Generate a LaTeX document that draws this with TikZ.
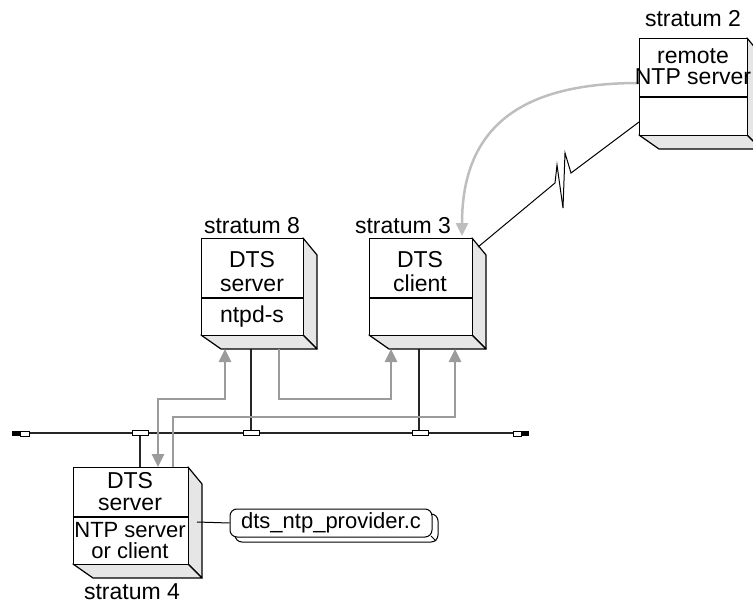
\documentclass[tikz,border=0pt]{standalone}
\usepackage{fontspec}
\setmainfont{Liberation Sans}
\usetikzlibrary{arrows.meta}
\definecolor{sidegray}{HTML}{E6E6E6}
\definecolor{linkgray}{HTML}{9B9B9B}
\definecolor{curvegray}{HTML}{BEBEBE}
\newcommand\tdbox[6]{% name, xl, yt, xr, yb, ydiv
  \draw[boxside] (#4,#3) -- ({#4+14},{#3+17}) -- ({#4+14},{#5+14}) -- (#4,#5) -- cycle;
  \draw[boxside] (#2,#5) -- (#4,#5) -- ({#4+14},{#5+14}) -- ({#2+20},{#5+14}) -- cycle;
  \node[boxface, minimum width={(#4-#2)*1pt}, minimum height={(#5-#3)*1pt}] (#1) at (#2,#3) {};
  \draw[line width=1.2pt] (#2,#6) -- (#4,#6);
}
\begin{document}
\begin{tikzpicture}[x=1pt,y=-1pt,
  boxface/.style={draw=black, fill=white, line width=1.2pt, inner sep=0pt, anchor=north west},
  boxside/.style={draw=black, fill=sidegray, line width=1.2pt, line join=round},
  txt/.style={font=\fontsize{23}{24}\selectfont, inner sep=0pt, anchor=base},
  smalltxt/.style={font=\fontsize{22}{24}\selectfont, inner sep=0pt, anchor=base},
  busline/.style={line width=2.2pt, draw=black!85},
  tapbox/.style={draw=black, fill=white, line width=1pt, minimum width=16pt, minimum height=5pt, inner sep=0pt},
  drop/.style={line width=2.5pt, draw=black!85},
  glink/.style={line width=2.8pt, draw=linkgray, -{Triangle[length=13pt,width=12pt,fill=linkgray]}},
  glinkboth/.style={line width=2.8pt, draw=linkgray, {Triangle[length=13pt,width=12pt,fill=linkgray]}-{Triangle[length=13pt,width=12pt,fill=linkgray]}},
  curvelink/.style={line width=2.5pt, draw=curvegray, -{Triangle[length=13pt,width=12pt,fill=curvegray]}},
  thinline/.style={line width=1pt, draw=black}
]
\useasboundingbox (0,0) rectangle (753,605);

% bus
\draw[busline] (29,433) -- (513,433);
\fill[black] (12,431) rectangle (20,436);
\draw[fill=white, line width=0.8pt] (20,431) rectangle (29,436);
\draw[fill=white, line width=0.8pt] (513,431) rectangle (521,436);
\fill[black] (521,431) rectangle (529,436);

% coordinates for connector ends
\coordinate (s8b) at (251,349);
\coordinate (s3b) at (419,349);
\coordinate (s4t) at (140,467);
\coordinate (a1s) at (158,467);
\coordinate (a1e) at (225,349);
\coordinate (a2s) at (173,467);
\coordinate (a2e) at (455,349);
\coordinate (a3s) at (279,349);
\coordinate (a3e) at (391,349);
\coordinate (cs) at (639,83);
\coordinate (ce) at (462,236);
\coordinate (zs) at (478,247);
\coordinate (ze) at (639,122);
\coordinate (s4c) at (197,522);

% drops
\draw[drop] (s4t) -- (140,433);
\draw[drop] (s8b) -- (251,433);
\draw[drop] (s3b) -- (419,433);
\node[tapbox] (t4) at (140,433) {};
\node[tapbox] (t8) at (251,433) {};
\node[tapbox] (t3) at (420,433) {};

% boxes
\tdbox{s2}{639}{38}{747}{135}{97}
\tdbox{s8}{201}{238}{303}{335}{298}
\tdbox{s3}{369}{238}{472}{335}{298}
\tdbox{s4}{73}{467}{188}{564}{517}

% grey links
\draw[glinkboth] (a1s) -- (158,399) -| (a1e);
\draw[glink] (a2s) -- (173,417) -| (a2e);
\draw[glink] (a3s) -- (279,399) -| (a3e);
\draw[curvelink] (cs) .. controls (530,83) and (462,120) .. (ce);

% remote link with lightning
\draw[thinline, line join=miter] (zs) -- (555,183) -- (557,165) -- (563,208) -- (565,153) -- (571,173) -- (ze);

% provider box
\draw[thinline, fill=white, rounded corners=7pt] (235,514) rectangle (438,542);
\node[draw=black, line width=1pt, fill=white, rounded corners=7pt, minimum width=202pt, minimum height=28pt, inner sep=0pt] (prov) at (331,523) {};
\draw[thinline] (431,536) -- (436,541);
\draw[thinline] (s4c) -- (prov.west);
\node[smalltxt] (provt) at (331,528) {dts\_ntp\_provider.c};

% labels
\node[txt] (l2) at (693,26) {stratum 2};
\node[txt] (l8) at (252,233) {stratum 8};
\node[txt] (l3) at (403,233) {stratum 3};
\node[txt] (l4) at (132,599) {stratum 4};

\node[txt] (s2a) at (693,63) {remote};
\node[txt] (s2b) at (693,84) {NTP server};
\node[txt] (s8a) at (252,267) {DTS};
\node[txt] (s8c) at (252,291) {server};
\node[txt] (s8d) at (252,322) {ntpd-s};
\node[txt] (s3a) at (420,267) {DTS};
\node[txt] (s3c) at (420,291) {client};
\node[txt] (s4a) at (130,488) {DTS};
\node[txt] (s4b) at (130,510) {server};
\node[smalltxt] (s4d) at (130,537) {NTP server};
\node[smalltxt] (s4e) at (130,558) {or client};
\end{tikzpicture}
\end{document}
